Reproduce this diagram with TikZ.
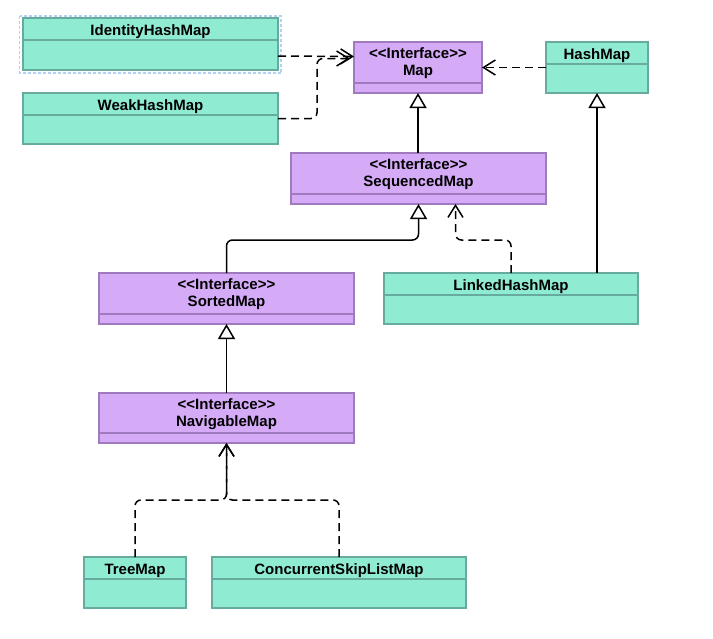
\documentclass[tikz,border=0pt]{standalone}
\usepackage{fontspec}
\setmainfont{Liberation Sans}
\usetikzlibrary{arrows.meta}

\definecolor{clsfill}{RGB}{144,235,211}
\definecolor{clsdraw}{RGB}{103,171,159}
\definecolor{ifcfill}{RGB}{213,171,247}
\definecolor{ifcdraw}{RGB}{160,122,190}
\definecolor{selblue}{RGB}{178,208,243}

\newcommand{\ifcmark}{<{}<Interface>{}>}

\tikzset{
	umlbox/.style={rectangle, line width=1.5pt, inner sep=0pt, outer sep=0pt},
	clsbox/.style={umlbox, fill=clsfill, draw=clsdraw},
	ifcbox/.style={umlbox, fill=ifcfill, draw=ifcdraw},
	clsname/.style={anchor=base, inner sep=0pt, yshift=-17pt},
	stereo/.style={anchor=base, inner sep=0pt, yshift=-16.5pt},
	ifcname/.style={anchor=base, inner sep=0pt, yshift=-33pt},
	extends/.style={line width=1.5pt, rounded corners=6pt, -{Triangle[open, length=15pt, width=17pt]}},
	realizes/.style={line width=1.5pt, rounded corners=6pt, dash pattern=on 8pt off 5pt, -{Straight Barb[length=12pt, width=15pt]}}
}

\begin{document}
\begin{tikzpicture}[x=1pt, y=-1pt, font=\bfseries\fontsize{15}{17}\selectfont]
	\fill[white] (0,0) rectangle (713,638);
	\useasboundingbox (0,0) rectangle (713,638);

	% classes
	\node[clsbox, minimum width=255pt, minimum height=52pt, label={[clsname]north:IdentityHashMap}] (idh) at (150.5,44) {};
	\node[clsbox, minimum width=255pt, minimum height=51pt, label={[clsname]north:WeakHashMap}] (weak) at (150.5,118.5) {};
	\node[clsbox, minimum width=102pt, minimum height=51pt, label={[clsname]north:HashMap}] (hash) at (597,67.5) {};
	\node[clsbox, minimum width=254pt, minimum height=51pt, label={[clsname]north:LinkedHashMap}] (linked) at (511,298.5) {};
	\node[clsbox, minimum width=102pt, minimum height=51pt, label={[clsname]north:TreeMap}] (tree) at (135,582.5) {};
	\node[clsbox, minimum width=254pt, minimum height=51pt, label={[clsname]north:ConcurrentSkipListMap}] (csl) at (339,582.5) {};

	% interfaces
	\node[ifcbox, minimum width=128pt, minimum height=51pt, label={[stereo]north:\ifcmark}, label={[ifcname]north:Map}] (map) at (418,67.5) {};
	\node[ifcbox, minimum width=255pt, minimum height=51pt, label={[stereo]north:\ifcmark}, label={[ifcname]north:SequencedMap}] (seq) at (418.5,178.5) {};
	\node[ifcbox, minimum width=255pt, minimum height=51pt, label={[stereo]north:\ifcmark}, label={[ifcname]north:SortedMap}] (sorted) at (226.5,298.5) {};
	\node[ifcbox, minimum width=255pt, minimum height=50pt, label={[stereo]north:\ifcmark}, label={[ifcname]north:NavigableMap}] (nav) at (226.5,418) {};

	% compartments
	\foreach \n in {idh,weak,hash,linked,tree,csl}
		\draw[clsdraw, line width=1.5pt] ([yshift=-22pt]\n.north west) -- ([yshift=-22pt]\n.north east);
	\foreach \n in {map,seq,sorted,nav}
		\draw[ifcdraw, line width=1.5pt] ([yshift=10pt]\n.south west) -- ([yshift=10pt]\n.south east);

	% selection frame
	\draw[selblue, line width=1.2pt, dash pattern=on 3pt off 2pt] ([xshift=-3.5pt, yshift=2pt]idh.north west) rectangle ([xshift=3pt, yshift=-3pt]idh.south east);

	% relations
	\draw[realizes] ([yshift=-12pt]idh.east) -- ([yshift=11pt]map.west);
	\draw[realizes, shorten >=4pt] (weak.east) -- ++(39,0) |- ([yshift=9pt]map.west);
	\draw[realizes] (hash) -- (map.east);
	\draw[extends] (map.south |- seq.north) -- (map.south);
	\draw[extends] (hash.south |- linked.north) -- (hash.south);
	\draw[extends] (sorted.north) -- ++(0,-33) -| (seq.south);
	\draw[realizes] (linked.north) -- ++(0,-33) -| ([xshift=37pt]seq.south);
	\draw[extends] (nav.north) -- (sorted.south);
	\draw[realizes] (tree.north) -- ++(0,-57) -| (nav.south);
	\draw[realizes] (csl.north) -- ++(0,-57) -| (nav.south);
\end{tikzpicture}
\end{document}
